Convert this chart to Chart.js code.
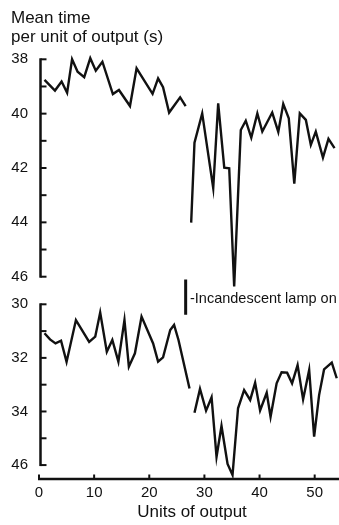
<!doctype html>
<html lang="en">
<head>
<meta charset="utf-8">
<title>Mean time per unit of output</title>
<style>
  * { margin: 0; padding: 0; }
  body {
    width: 339px;
    height: 525px;
    overflow: hidden;
    position: relative;
    background: #fff;
    color: #111;
    font-family: "Liberation Sans", Arial, sans-serif;
  }
  canvas { position: absolute; left: 0; top: 0; }
  .txt { position: absolute; white-space: nowrap; }
  .ytitle { left: 11px; top: 9px; font-size: 17px; line-height: 18.5px; }
  .xtitle { left: 192px; top: 503px; font-size: 17px; line-height: 18.5px; transform: translateX(-50%); }
  .lamp { left: 190px; top: 289.5px; font-size: 14.5px; line-height: 16px; }
</style>
<script src="https://cdn.jsdelivr.net/npm/chart.js@4.4.1/dist/chart.umd.min.js"></script>
</head>
<body>
  <canvas id="topChart" width="339" height="525"></canvas>
  <canvas id="bottomChart" width="339" height="525"></canvas>
  <div class="txt ytitle">Mean time<br>per unit of output (s)</div>
  <div class="txt lamp">-Incandescent lamp on</div>
  <div class="txt xtitle">Units of output</div>
<script>
// data (x = units of output, y = mean time in s)
const topLeftX = [1.0, 2.9, 4.1, 5.1, 6.0, 7.0, 8.2, 9.3, 10.3, 11.5, 13.4, 14.5, 16.5, 17.7, 20.6, 21.6, 22.5, 23.6, 25.6, 26.6];
const topLeftY = [38.76, 39.15, 38.82, 39.23, 38.0, 38.46, 38.66, 37.96, 38.42, 38.09, 39.28, 39.13, 39.72, 38.33, 39.27, 38.7, 39.03, 39.96, 39.4, 39.72];

const topRightX = [27.6, 28.2, 29.6, 31.6, 32.5, 33.6, 34.5, 35.4, 36.6, 37.5, 38.5, 39.6, 40.5, 42.3, 43.4, 44.3, 45.3, 46.3, 47.3, 48.4, 49.3, 50.2, 51.5, 52.5, 53.6];
const topRightY = [44.01, 41.07, 39.99, 42.74, 39.62, 41.99, 42.01, 46.36, 40.6, 40.26, 40.88, 39.99, 40.66, 39.96, 40.67, 39.64, 40.17, 42.58, 39.99, 40.23, 41.15, 40.66, 41.62, 40.93, 41.27];

const bottomLeftX = [1.0, 2.0, 3.0, 4.0, 5.0, 6.7, 9.1, 10.2, 11.1, 12.3, 13.3, 14.4, 15.5, 16.3, 17.4, 18.6, 20.7, 21.6, 22.5, 23.8, 24.5, 25.3, 27.3];
const bottomLeftY = [31.08, 31.31, 31.46, 31.36, 32.15, 30.59, 31.4, 31.21, 30.31, 31.77, 31.33, 32.14, 30.59, 32.33, 31.83, 30.46, 31.46, 32.14, 31.98, 30.96, 30.77, 31.33, 33.14];

const bottomRightX = [28.2, 29.2, 30.3, 31.3, 32.2, 33.1, 34.2, 35.1, 36.1, 37.2, 38.3, 39.2, 40.1, 41.3, 42.0, 43.1, 44.0, 45.0, 45.9, 46.9, 47.9, 49.0, 49.9, 50.8, 51.7, 53.1, 54.0];
const bottomRightY = [34.05, 33.16, 33.97, 33.47, 35.69, 34.54, 35.96, 36.37, 33.88, 33.2, 33.57, 32.93, 33.96, 33.3, 34.2, 32.95, 32.54, 32.55, 32.95, 32.27, 33.55, 32.45, 34.94, 33.39, 32.43, 32.18, 32.76];

const lampOnAt = 26.6;

// ticks
const xTicks = [0, 10, 20, 30, 40, 50];
const topTicks = [38, 40, 42, 44, 46];
const topMarks = [38, 39, 40, 41, 42, 43, 44, 45, 46];
const bottomTicks = [30, 32, 34, 36];
const bottomTickLabels = ['30', '32', '34', '46'];
const bottomMarks = [30, 31, 32, 33, 34, 35, 36];

const ink = '#111';
Chart.defaults.font.family = '"Liberation Sans", Arial, sans-serif';
Chart.defaults.color = ink;

const pts = (xs, ys) => xs.map((x, i) => ({ x, y: ys[i] }));

const lineStyle = {
  borderColor: ink,
  borderWidth: 2.4,
  pointRadius: 0,
  tension: 0,
  clip: false
};

// axis lines with inward tick marks
const frame = {
  id: 'frame',
  afterDatasetsDraw(chart, args, opts) {
    const { ctx, chartArea: { left, right, bottom }, scales: { x, y } } = chart;
    const axisX = left + 2.5;
    const marks = opts.marks;
    ctx.save();
    ctx.strokeStyle = ink;
    ctx.lineWidth = 2.5;
    ctx.beginPath();
    ctx.moveTo(axisX, y.getPixelForValue(marks[0]) - 1);
    ctx.lineTo(axisX, y.getPixelForValue(marks[marks.length - 1]) + 1);
    ctx.stroke();
    ctx.lineWidth = 2;
    marks.forEach(v => {
      const py = y.getPixelForValue(v);
      ctx.beginPath();
      ctx.moveTo(axisX, py);
      ctx.lineTo(axisX + 6, py);
      ctx.stroke();
    });
    if (opts.xAxis) {
      ctx.lineWidth = 2.5;
      ctx.beginPath();
      ctx.moveTo(left, bottom);
      ctx.lineTo(right, bottom);
      ctx.stroke();
      ctx.lineWidth = 2;
      xTicks.forEach(v => {
        const px = x.getPixelForValue(v);
        ctx.beginPath();
        ctx.moveTo(px, bottom);
        ctx.lineTo(px, bottom - 4.5);
        ctx.stroke();
      });
    }
    ctx.restore();
  }
};

const xScale = (show) => ({
  type: 'linear',
  min: -0.18,
  max: 54.41,
  display: show,
  grid: { display: false, drawTicks: false },
  border: { display: false },
  afterBuildTicks: (s) => { s.ticks = xTicks.map(v => ({ value: v })); },
  afterFit: (s) => { s.height = show ? 46 : 0; },
  ticks: { padding: 5, font: { size: 15 }, maxRotation: 0, autoSkip: false }
});

const yScale = (min, max, ticks, labels) => ({
  reverse: true,
  min,
  max,
  grid: { display: false, drawTicks: false },
  border: { display: false },
  afterBuildTicks: (s) => { s.ticks = ticks.map(v => ({ value: v })); },
  afterFit: (s) => { s.width = 38; },
  ticks: {
    padding: 10,
    font: { size: 15 },
    callback: (v) => labels ? labels[ticks.indexOf(v)] : String(v)
  }
});

const baseOptions = {
  responsive: false,
  animation: false,
  events: [],
  plugins: { legend: { display: false }, tooltip: { enabled: false } }
};

// top panel
new Chart(document.getElementById('topChart'), {
  type: 'line',
  data: {
    datasets: [
      { ...lineStyle, data: pts(topLeftX, topLeftY) },
      { ...lineStyle, data: pts(topRightX, topRightY) },
      { ...lineStyle, borderWidth: 3, data: [{ x: lampOnAt, y: 46.1 }, { x: lampOnAt, y: 47.4 }] }
    ]
  },
  options: {
    ...baseOptions,
    layout: { padding: { top: 59.3, bottom: 248.3, left: 0, right: 0 }, autoPadding: false },
    scales: {
      x: xScale(false),
      y: yScale(38, 46, topTicks, null)
    },
    plugins: { ...baseOptions.plugins, frame: { marks: topMarks, xAxis: false } }
  },
  plugins: [frame]
});

// bottom panel
new Chart(document.getElementById('bottomChart'), {
  type: 'line',
  data: {
    datasets: [
      { ...lineStyle, data: pts(bottomLeftX, bottomLeftY) },
      { ...lineStyle, data: pts(bottomRightX, bottomRightY) }
    ]
  },
  options: {
    ...baseOptions,
    layout: { padding: { top: 304.3, bottom: 0, left: 0, right: 0 }, autoPadding: false },
    scales: {
      x: xScale(true),
      y: yScale(30, 36.52, bottomTicks, bottomTickLabels)
    },
    plugins: { ...baseOptions.plugins, frame: { marks: bottomMarks, xAxis: true } }
  },
  plugins: [frame]
});
</script>
</body>
</html>
